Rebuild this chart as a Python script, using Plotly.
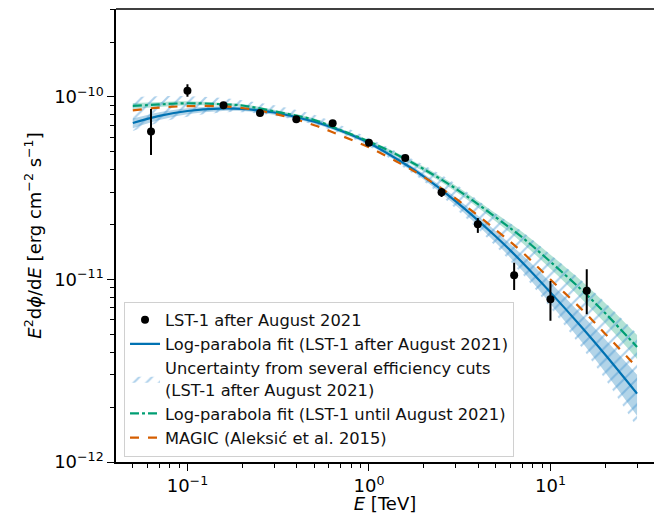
import math
import plotly.graph_objects as go

# ---- data ----
# LST-1 after August 2021 flux points
pt_e = [0.063, 0.1, 0.158, 0.251, 0.398, 0.631, 1.0, 1.585, 2.512, 3.981, 6.31, 10.0, 15.85]
pt_f = [6.46e-11, 1.083e-10, 9.0e-11, 8.17e-11, 7.55e-11, 7.17e-11, 5.62e-11, 4.63e-11,
        3.01e-11, 2.01e-11, 1.055e-11, 7.8e-12, 8.68e-12]
pt_hi = [8.6e-11, 1.174e-10, 9.2e-11, 8.35e-11, 7.7e-11, 7.35e-11, 5.78e-11, 4.8e-11,
         3.17e-11, 2.17e-11, 1.236e-11, 9.81e-12, 1.138e-11]
pt_lo = [4.81e-11, 1.003e-10, 8.8e-11, 8.0e-11, 7.4e-11, 7.0e-11, 5.47e-11, 4.47e-11,
         2.83e-11, 1.80e-11, 8.76e-12, 5.94e-12, 6.45e-12]

# curve energies [TeV]
crv_e = [0.05, 0.07, 0.1, 0.15, 0.2, 0.3, 0.5, 0.7, 1.0, 1.5, 2.0, 3.0, 5.0, 7.0, 10.0, 15.0, 20.0, 30.0]

# Log-parabola fit (LST-1 after August 2021) and its band
blue_f = [7.20e-11, 7.88e-11, 8.38e-11, 8.64e-11, 8.60e-11, 8.22e-11, 7.32e-11, 6.53e-11, 5.60e-11,
          4.43e-11, 3.67e-11, 2.69e-11, 1.72e-11, 1.24e-11, 8.50e-12, 5.42e-12, 3.88e-12, 2.37e-12]
blue_up = [7.62e-11, 8.25e-11, 8.67e-11, 8.89e-11, 8.80e-11, 8.41e-11, 7.49e-11, 6.68e-11, 5.73e-11,
           4.56e-11, 3.80e-11, 2.82e-11, 1.84e-11, 1.36e-11, 9.63e-12, 6.35e-12, 4.71e-12, 3.01e-12]
blue_lo = [6.74e-11, 7.47e-11, 8.05e-11, 8.36e-11, 8.37e-11, 8.00e-11, 7.13e-11, 6.36e-11, 5.45e-11,
           4.29e-11, 3.53e-11, 2.55e-11, 1.59e-11, 1.115e-11, 7.35e-12, 4.50e-12, 3.10e-12, 1.79e-12]

# Uncertainty from several efficiency cuts (hatched)
hatch_up = [1.00e-10, 1.01e-10, 1.01e-10, 9.9e-11, 9.6e-11, 9.0e-11, 8.0e-11, 7.0e-11, 5.95e-11,
            4.9e-11, 4.25e-11, 3.35e-11, 2.3e-11, 1.83e-11, 1.37e-11, 9.8e-12, 7.5e-12, 5.05e-12]
hatch_lo = [6.5e-11, 7.25e-11, 7.8e-11, 8.2e-11, 8.25e-11, 7.9e-11, 7.05e-11, 6.3e-11, 5.35e-11,
            4.2e-11, 3.45e-11, 2.45e-11, 1.52e-11, 1.07e-11, 7.0e-12, 4.2e-12, 2.85e-12, 1.55e-12]

# Log-parabola fit (LST-1 until August 2021) and its band
green_f = [8.93e-11, 9.10e-11, 9.24e-11, 9.14e-11, 8.98e-11, 8.35e-11, 7.48e-11, 6.57e-11, 5.70e-11,
           4.71e-11, 4.03e-11, 3.15e-11, 2.19e-11, 1.70e-11, 1.25e-11, 8.68e-12, 6.55e-12, 4.27e-12]
green_up = [9.27e-11, 9.39e-11, 9.48e-11, 9.31e-11, 9.15e-11, 8.51e-11, 7.62e-11, 6.70e-11, 5.81e-11,
            4.83e-11, 4.16e-11, 3.27e-11, 2.30e-11, 1.82e-11, 1.365e-11, 9.72e-12, 7.43e-12, 4.97e-12]
green_lo = [8.60e-11, 8.82e-11, 9.01e-11, 8.97e-11, 8.81e-11, 8.19e-11, 7.34e-11, 6.45e-11, 5.59e-11,
            4.59e-11, 3.90e-11, 3.03e-11, 2.08e-11, 1.586e-11, 1.144e-11, 7.75e-12, 5.77e-12, 3.67e-12]

# MAGIC (Aleksić et al. 2015)
magic_f = [8.45e-11, 8.75e-11, 8.9e-11, 8.9e-11, 8.7e-11, 8.1e-11, 7.0e-11, 6.15e-11, 5.3e-11,
           4.3e-11, 3.65e-11, 2.78e-11, 1.87e-11, 1.41e-11, 1.0e-11, 6.8e-12, 5.05e-12, 3.3e-12]

x_ticks = [0.1, 1, 10]
x_ticktext = ["10<sup>−1</sup>", "10<sup>0</sup>", "10<sup>1</sup>"]
y_ticks = [1e-12, 1e-11, 1e-10]
y_ticktext = ["10<sup>−12</sup>", "10<sup>−11</sup>", "10<sup>−10</sup>"]

BLUE = "#0072B2"
GREEN = "#009E73"
ORANGE = "#D55E00"
HATCH = "rgba(70,150,210,0.9)"
FONT = "DejaVu Sans"

fig = go.Figure()

def band(lo, up, fill, **kw):
    fig.add_trace(go.Scatter(x=crv_e, y=lo, mode="lines", line=dict(width=0, shape="spline"),
                             showlegend=False, hoverinfo="skip"))
    fig.add_trace(go.Scatter(x=crv_e, y=up, mode="lines", line=dict(width=0, shape="spline"),
                             fill="tonexty", fillcolor=fill, hoverinfo="skip", **kw))

band(blue_lo, blue_up, "rgba(0,114,178,0.30)", showlegend=False)
band(green_lo, green_up, "rgba(0,158,115,0.30)", showlegend=False)
band(hatch_lo, hatch_up, HATCH,
     fillpattern=dict(shape="/", fgcolor=HATCH, bgcolor="rgba(0,0,0,0)", size=9, solidity=0.22),
     name="Uncertainty from several efficiency cuts<br>(LST-1 after August 2021)", legendrank=3)

fig.add_trace(go.Scatter(x=crv_e, y=blue_f, mode="lines", line=dict(color=BLUE, width=2.2, shape="spline"),
                         name="Log-parabola fit (LST-1 after August 2021)", legendrank=2))
fig.add_trace(go.Scatter(x=crv_e, y=green_f, mode="lines",
                         line=dict(color=GREEN, width=2.2, dash="dashdot", shape="spline"),
                         name="Log-parabola fit (LST-1 until August 2021)", legendrank=4))
fig.add_trace(go.Scatter(x=crv_e, y=magic_f, mode="lines",
                         line=dict(color=ORANGE, width=2.2, dash="dash", shape="spline"),
                         name="MAGIC (Aleksić et al. 2015)", legendrank=5))

fig.add_trace(go.Scatter(
    x=pt_e, y=pt_f, mode="markers",
    marker=dict(color="black", size=8),
    error_y=dict(type="data", symmetric=False,
                 array=[h - f for h, f in zip(pt_hi, pt_f)],
                 arrayminus=[f - l for f, l in zip(pt_f, pt_lo)],
                 color="black", thickness=2, width=0),
    name="LST-1 after August 2021", legendrank=1))

x_minor = [m * 10 ** d for d in (-2, -1, 0, 1) for m in range(2, 10)]
y_minor = [m * 10 ** d for d in (-12, -11, -10) for m in range(2, 10)]

fig.update_layout(
    width=654, height=514,
    margin=dict(l=116, r=0, t=9, b=52),
    paper_bgcolor="white", plot_bgcolor="white",
    font=dict(family=FONT, size=18, color="black"),
    showlegend=True,
    legend=dict(x=0.0149, y=0.012, xanchor="left", yanchor="bottom", traceorder="normal",
                bgcolor="rgba(255,255,255,0.85)", bordercolor="#d0d0d0", borderwidth=1,
                font=dict(family=FONT, size=16.3, color="#111111"),
                tracegroupgap=0, itemwidth=30),
    xaxis=dict(type="log", range=[math.log10(0.0404), math.log10(37.2)],
               tickvals=x_ticks, ticktext=x_ticktext, ticks="outside", ticklen=7, tickwidth=1.3,
               tickcolor="black", showline=True, linecolor="black", linewidth=1.5,
               showgrid=False, zeroline=False,
               minor=dict(tickvals=x_minor, ticks="outside", ticklen=4, tickwidth=1, tickcolor="black",
                          showgrid=False),
               title=dict(text="<i>E</i> [TeV]", font=dict(size=18), standoff=2)),
    yaxis=dict(type="log", range=[-12, -9.518],
               tickvals=y_ticks, ticktext=y_ticktext, ticks="outside", ticklen=7, tickwidth=1.3,
               tickcolor="black", showline=True, linecolor="black", linewidth=1.5,
               showgrid=False, zeroline=False,
               minor=dict(tickvals=y_minor, ticks="outside", ticklen=4, tickwidth=1, tickcolor="black",
                          showgrid=False),
               title=dict(text="<i>E</i><sup>2</sup>d<i>ϕ</i>/d<i>E</i> [erg cm<sup>−2</sup> s<sup>−1</sup>]",
                          font=dict(size=18), standoff=8)),
)

fig.add_shape(type="line", xref="paper", yref="paper", x0=0, x1=1, y0=1, y1=1,
              line=dict(color="black", width=1.5))
fig.add_annotation(text="Energy [TeV]", xref="paper", yref="paper", x=0.5, y=1,
                   xanchor="center", yanchor="bottom", yshift=8, showarrow=False,
                   font=dict(family=FONT, size=18, color="black"))

fig.write_html("out.html")
